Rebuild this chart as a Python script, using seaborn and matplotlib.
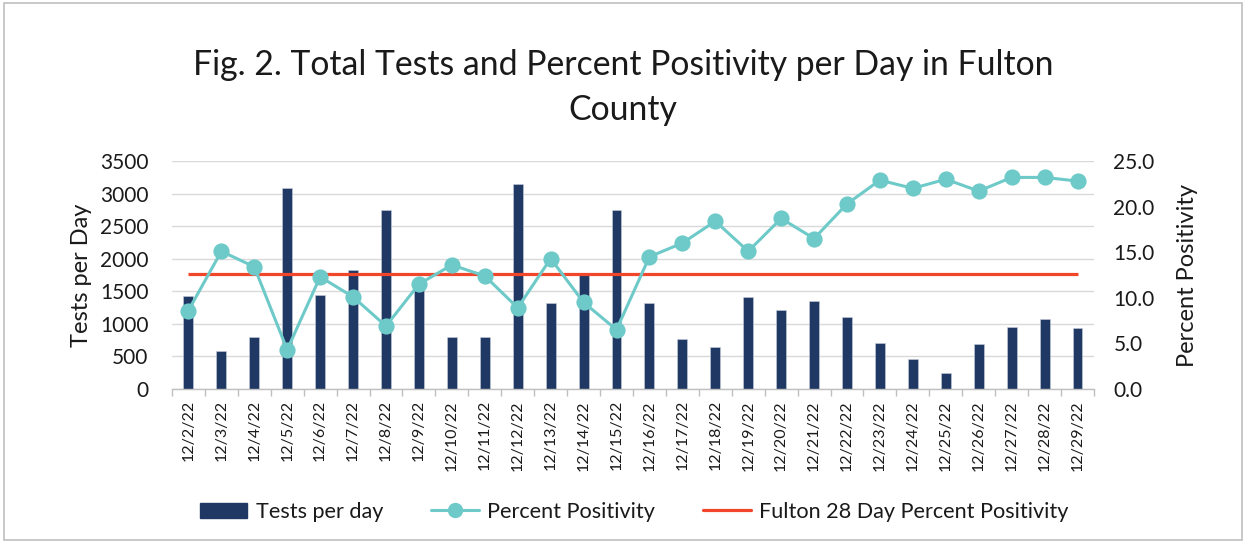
import numpy as np
import pandas as pd
import matplotlib
matplotlib.use("Agg")
import matplotlib.pyplot as plt
from matplotlib.patches import Rectangle, Patch
from matplotlib.lines import Line2D
import seaborn as sns

dates = ["12/2/22", "12/3/22", "12/4/22", "12/5/22", "12/6/22", "12/7/22", "12/8/22",
         "12/9/22", "12/10/22", "12/11/22", "12/12/22", "12/13/22", "12/14/22", "12/15/22",
         "12/16/22", "12/17/22", "12/18/22", "12/19/22", "12/20/22", "12/21/22", "12/22/22",
         "12/23/22", "12/24/22", "12/25/22", "12/26/22", "12/27/22", "12/28/22", "12/29/22"]
tests = [1430, 590, 800, 3080, 1440, 1830, 2750, 1530, 800, 800, 3140, 1320, 1750, 2750,
         1320, 760, 650, 1410, 1215, 1350, 1110, 710, 465, 250, 690, 950, 1075, 940]
pct_pos = [8.6, 15.1, 13.4, 4.3, 12.3, 10.1, 6.9, 11.5, 13.6, 12.4, 8.9, 14.3, 9.5, 6.5,
           14.5, 16.0, 18.4, 15.1, 18.7, 16.5, 20.3, 22.9, 22.0, 23.0, 21.7, 23.2, 23.2, 22.8]
fulton_28day = 12.65

left_ticks = [0, 500, 1000, 1500, 2000, 2500, 3000, 3500]
right_ticks = [0, 5, 10, 15, 20, 25]

BAR_C = "#1F3864"
LINE_C = "#6DCAC8"
RED_C = "#F2462A"
TXT_C = "#1a1a1a"

sns.set_theme(style="white")
plt.rcParams["font.family"] = ["Lato", "DejaVu Sans"]

df = pd.DataFrame({"date": dates, "tests": tests, "pct": pct_pos})
n = len(dates)

fig = plt.figure(figsize=(12.46, 5.43), dpi=100)
ax = fig.add_axes([0.138, 0.2836, 0.740, 0.4199])

sns.barplot(data=df, x="date", y="tests", color=BAR_C, width=0.3, ax=ax,
            saturation=1, edgecolor="#c8cfdb", linewidth=0.4)
ax.set_ylim(0, 3500)
ax.set_yticks(left_ticks)
ax.yaxis.grid(True, color="#D9D9D9", linewidth=1.0)
ax.set_axisbelow(True)
ax.set_xlim(-0.5, n - 0.5)

ax2 = ax.twinx()
ax2.plot([0, n - 1], [fulton_28day, fulton_28day], color=RED_C, linewidth=2.3, zorder=2,
         solid_capstyle="butt")
sns.pointplot(data=df, x="date", y="pct", color=LINE_C, ax=ax2, markers="o",
              markersize=10, linewidth=2.2, zorder=3)
ax2.set_ylim(0, 25)
ax2.set_yticks(right_ticks)
ax2.set_yticklabels([f"{v:.1f}" for v in right_ticks])
ax2.set_xlim(-0.5, n - 0.5)
ax2.set_xlabel("")

ax.set_xticks(range(n))
ax.set_xticklabels(dates, rotation=90, fontsize=11.5, color=TXT_C)
ax.set_xticks(np.arange(-0.5, n, 1.0), minor=True)
ax.tick_params(axis="x", which="major", length=0, pad=8)
ax.tick_params(axis="x", which="minor", length=5, color="#BFBFBF", width=1, direction="out", bottom=True)
ax.tick_params(axis="y", length=0, labelsize=15, labelcolor=TXT_C, pad=17)
ax2.tick_params(axis="y", length=0, labelsize=15, labelcolor=TXT_C, pad=14)
ax.set_xlabel("")
ax.set_ylabel("Tests per Day", fontsize=17, color=TXT_C, labelpad=6)
ax2.set_ylabel("Percent Positivity", fontsize=17, color=TXT_C, labelpad=16)

for a in (ax, ax2):
    for s in ("top", "left", "right", "bottom"):
        a.spines[s].set_visible(False)
ax.spines["bottom"].set_visible(True)
ax.spines["bottom"].set_color("#BFBFBF")
ax.spines["bottom"].set_linewidth(1)

fig.text(0.5, 0.838, "Fig. 2. Total Tests and Percent Positivity per Day in Fulton\nCounty",
         ha="center", va="center", fontsize=24.3, color=TXT_C, linespacing=1.5)

handles = [Patch(facecolor=BAR_C, edgecolor=BAR_C),
           Line2D([0], [0], color=LINE_C, lw=2.2, marker="o", markersize=10),
           Line2D([0], [0], color=RED_C, lw=2.3)]
labels = ["Tests per day", "Percent Positivity", "Fulton 28 Day Percent Positivity"]
fig.legend(handles, labels, loc="center", bbox_to_anchor=(0.509, 0.057), ncol=3,
           frameon=False, fontsize=15.6, handlelength=2.2, columnspacing=2.2,
           handletextpad=0.4, labelcolor=TXT_C)

fig.add_artist(Rectangle((0.003, 0.006), 0.994, 0.988, transform=fig.transFigure,
                         fill=False, edgecolor="#BFBFBF", linewidth=1.2))

fig.savefig("out.png", dpi=100, facecolor="white")
